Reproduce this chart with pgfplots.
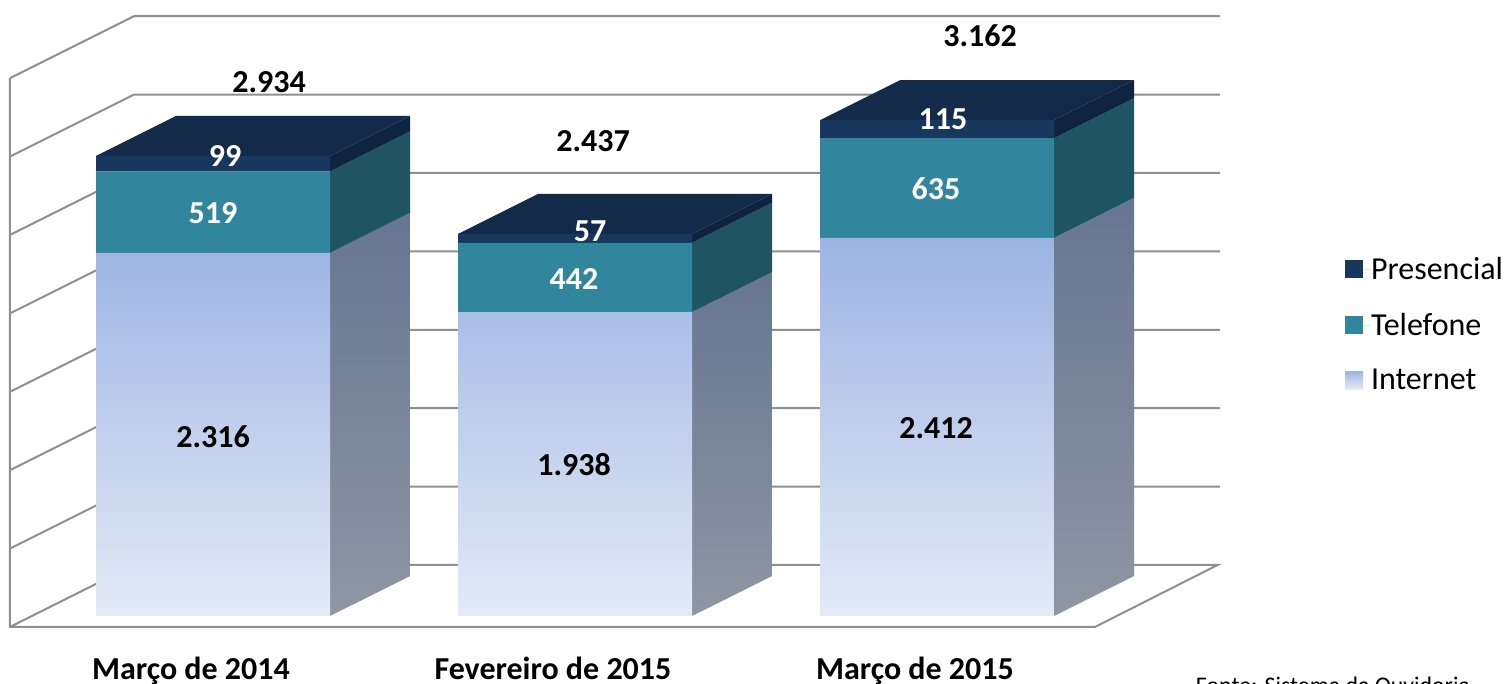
\documentclass[border=0pt]{standalone}
\usepackage{fontspec}
\setmainfont{Carlito}
\usepackage{pgfplots}
\pgfplotsset{compat=1.18}
\definecolor{wall}{HTML}{8F8F8F}
\definecolor{netTop}{HTML}{9CB4E3}
\definecolor{netBot}{HTML}{E4EAF6}
\definecolor{netSideTop}{HTML}{667592}
\definecolor{netSideBot}{HTML}{8F96A3}
\definecolor{telFront}{HTML}{31859C}
\definecolor{telSide}{HTML}{1F5563}
\definecolor{preFront}{HTML}{17375E}
\definecolor{preSide}{HTML}{0F2440}
\definecolor{preTop}{HTML}{132B49}
% one picture pixel = 0.75pt, axis fills the whole picture
\pgfplotsset{
  pic/.style={
    at={(0pt,0pt)}, anchor=south west,
    scale only axis, width=1128.75pt, height=513pt,
    xmin=-0.5884, xmax=3.56906,
    ymin=-433.7, ymax=3928.6,
    clip=false,
    axis line style={draw=none},
    major tick length=0pt,
    ytick=\empty,
  },
  face/.style={draw=none, no markers, forget plot},
  wline/.style={color=wall, line width=1.5pt, no markers, forget plot, unbounded coords=jump},
}
\newcommand\lab[4][black]{\node[text=#1, font=\fontsize{24}{24}\selectfont\bfseries, anchor=center, inner sep=0pt] at ({#2*0.75pt},{(684-#3)*0.75pt}) {#4};}
\begin{document}
\begin{tikzpicture}
\path[use as bounding box] (0pt,0pt) rectangle (1128.75pt,513pt);
\begin{axis}[pic, xtick=\empty]
% side walls and floor
\addplot[wline] coordinates {
  (-0.5608,3429.9) (-0.5608,-70.1) (2.4365,-70.1) (2.775,325.3) (-0.2182,325.3) (-0.5608,-70.1) (nan,nan)
  (-0.5608,429.9) (-0.2182,825.3) (2.7818,825.3) (nan,nan)
  (-0.5608,929.9) (-0.2182,1325.3) (2.7818,1325.3) (nan,nan)
  (-0.5608,1429.9) (-0.2182,1825.3) (2.7818,1825.3) (nan,nan)
  (-0.5608,1929.9) (-0.2182,2325.3) (2.7818,2325.3) (nan,nan)
  (-0.5608,2429.9) (-0.2182,2825.3) (2.7818,2825.3) (nan,nan)
  (-0.5608,2929.9) (-0.2182,3325.3) (2.7818,3325.3) (nan,nan)
  (-0.5608,3429.9) (-0.2182,3825.3) (2.7818,3825.3)
};
% bar 1 sides and top
\addplot[face, top color=netSideTop, bottom color=netSideBot] coordinates {(0.3232,0) (0.5442,255) (0.5442,2571) (0.3232,2316)};
\addplot[face, fill=telSide] coordinates {(0.3232,2316) (0.5442,2571) (0.5442,3090) (0.3232,2835)};
\addplot[face, fill=preSide] coordinates {(0.3232,2835) (0.5442,3090) (0.5442,3189) (0.3232,2934)};
\addplot[face, fill=preTop] coordinates {(-0.3232,2934) (0.3232,2934) (0.5442,3189) (-0.1022,3189)};
% bar 2
\addplot[face, top color=netSideTop, bottom color=netSideBot] coordinates {(1.3232,0) (1.5442,255) (1.5442,2193) (1.3232,1938)};
\addplot[face, fill=telSide] coordinates {(1.3232,1938) (1.5442,2193) (1.5442,2635) (1.3232,2380)};
\addplot[face, fill=preSide] coordinates {(1.3232,2380) (1.5442,2635) (1.5442,2692) (1.3232,2437)};
\addplot[face, fill=preTop] coordinates {(0.6768,2437) (1.3232,2437) (1.5442,2692) (0.8978,2692)};
% bar 3
\addplot[face, top color=netSideTop, bottom color=netSideBot] coordinates {(2.3232,0) (2.5442,255) (2.5442,2667) (2.3232,2412)};
\addplot[face, fill=telSide] coordinates {(2.3232,2412) (2.5442,2667) (2.5442,3302) (2.3232,3047)};
\addplot[face, fill=preSide] coordinates {(2.3232,3047) (2.5442,3302) (2.5442,3417) (2.3232,3162)};
\addplot[face, fill=preTop] coordinates {(1.6768,3162) (2.3232,3162) (2.5442,3417) (1.8978,3417)};
\end{axis}
\begin{axis}[pic,
  ybar stacked, bar width=175.5pt,
  xtick={-0.0608,0.9392,1.9392},
  xticklabels={Março de 2014,Fevereiro de 2015,Março de 2015},
  xticklabel style={font=\fontsize{24}{24}\selectfont\bfseries, anchor=center, yshift=9pt, text height=14pt, text depth=3pt, inner sep=0pt},
  reverse legend,
  legend style={at={(1345*0.75pt,513pt-257*0.75pt)}, anchor=north west, draw=none, fill=none,
    font=\fontsize{24}{24}\selectfont, row sep=23.75pt, inner sep=0pt, outer sep=0pt,
    nodes={inner sep=0pt, anchor=west}, cells={anchor=west}},
  legend image code/.code={\path (0pt,0pt) rectangle (19.5pt,0pt);\path[#1] (0pt,-6.75pt) rectangle (13.5pt,6.75pt);},
]
\addplot[draw=none, top color=netTop, bottom color=netBot] coordinates {(0,2316) (1,1938) (2,2412)};
\addplot[draw=none, fill=telFront] coordinates {(0,519) (1,442) (2,635)};
\addplot[draw=none, fill=preFront] coordinates {(0,99) (1,57) (2,115)};
\legend{Internet,Telefone,Presencial}
\end{axis}
\lab{269}{82}{2.934}
\lab[white]{225}{156}{99}
\lab[white]{213}{213}{519}
\lab{213}{437}{2.316}
\lab{593}{141}{2.437}
\lab[white]{590}{231}{57}
\lab[white]{574}{279}{442}
\lab{574}{465}{1.938}
\lab{980}{36}{3.162}
\lab[white]{943}{119}{115}
\lab[white]{936}{189}{635}
\lab{936}{428}{2.412}
\node[anchor=center, inner sep=0pt, font=\fontsize{17.9}{18}\selectfont] at ({1333*0.75pt},{(684-685)*0.75pt}) {Fonte: Sistema da Ouvidoria};
\end{tikzpicture}
\end{document}
